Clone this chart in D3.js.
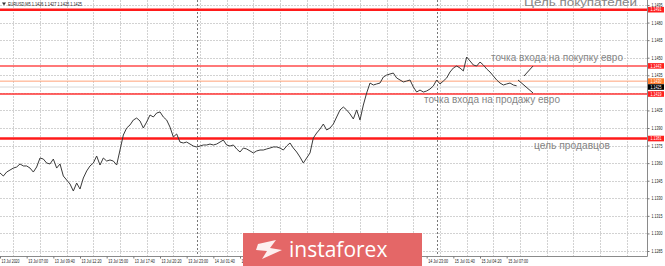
<!DOCTYPE html>
<html>
<head>
<meta charset="utf-8">
<script src="https://cdn.jsdelivr.net/npm/d3@7"></script>
<style>
  html, body { margin: 0; padding: 0; background: #fff; }
  svg { display: block; font-family: "Liberation Sans", Arial, sans-serif; }
</style>
</head>
<body>
<svg id="chart" width="665" height="266"></svg>
<script>
// EURUSD M5, closes every 20 minutes from 13 Jul 04:20
var startTime = "2020-07-13 04:20";
var stepMinutes = 20;
var closes = [
  1.13516, 1.13490, 1.13524, 1.13541, 1.13558, 1.13567, 1.13593, 1.13576, 1.13576, 1.13558,
  1.13524, 1.13567, 1.13644, 1.13635, 1.13601, 1.13593, 1.13635, 1.13558, 1.13593, 1.13490,
  1.13456, 1.13422, 1.13362, 1.13430, 1.13379, 1.13473, 1.13533, 1.13576, 1.13601, 1.13661,
  1.13584, 1.13644, 1.13618, 1.13627, 1.13618, 1.13584, 1.13712, 1.13840, 1.13900, 1.13926,
  1.13968, 1.13985, 1.13960, 1.13900, 1.13951, 1.14011, 1.13994, 1.14028, 1.14037, 1.13994,
  1.13968, 1.13908, 1.13823, 1.13849, 1.13780, 1.13772, 1.13780, 1.13763, 1.13746, 1.13738,
  1.13746, 1.13755, 1.13755, 1.13763, 1.13755, 1.13763, 1.13780, 1.13797, 1.13755, 1.13746,
  1.13755, 1.13721, 1.13695, 1.13729, 1.13721, 1.13704, 1.13687, 1.13704, 1.13712, 1.13712,
  1.13721, 1.13729, 1.13738, 1.13738, 1.13729, 1.13712, 1.13746, 1.13772, 1.13729, 1.13695,
  1.13652, 1.13601, 1.13644, 1.13687, 1.13815, 1.13857, 1.13891, 1.13934, 1.13883, 1.13900,
  1.13934, 1.13994, 1.14054, 1.14079, 1.14054, 1.14020, 1.13977, 1.14054, 1.13968, 1.14096,
  1.14199, 1.14284, 1.14267, 1.14276, 1.14284, 1.14335, 1.14352, 1.14361, 1.14369, 1.14327,
  1.14310, 1.14293, 1.14301, 1.14310, 1.14250, 1.14207, 1.14224, 1.14207, 1.14216, 1.14233,
  1.14259, 1.14310, 1.14276, 1.14301, 1.14327, 1.14378, 1.14412, 1.14429, 1.14412, 1.14387,
  1.14506, 1.14472, 1.14438, 1.14429, 1.14463, 1.14438, 1.14404, 1.14378, 1.14344, 1.14310,
  1.14284, 1.14267, 1.14276, 1.14284, 1.14267, 1.14260
];

// price axis ticks
var priceTicks = [1.1285, 1.1300, 1.1315, 1.1330, 1.1345, 1.1360, 1.1375, 1.1390,
  1.1405, 1.1420, 1.1435, 1.1450, 1.1465, 1.1480, 1.1495];

// time axis ticks that show (the rest sit under the logo); first is printed as a date
var timeTicks = [
  "2020-07-13 04:20", "2020-07-13 07:00", "2020-07-13 09:40", "2020-07-13 12:20",
  "2020-07-13 15:00", "2020-07-13 17:40", "2020-07-13 20:20", "2020-07-13 23:00",
  "2020-07-14 01:40", "2020-07-14 04:20",
  "2020-07-14 23:00", "2020-07-15 01:40", "2020-07-15 04:20", "2020-07-15 07:00"
];
var daySeparators = ["2020-07-14 00:00", "2020-07-15 00:00"];

// horizontal levels drawn on the chart
var levelNames = ["buyersTarget", "buyEntry", "orangeLine", "sellEntry", "sellersTarget"];
var levelPrices = [1.1491, 1.1443, 1.1430, 1.1419, 1.1381];
var currentBid = 1.1425;
var headerText = "EURUSD,M5  1.1426 1.1427 1.1425 1.1425";

// annotation texts
var noteTexts = ["Цель покупателей", "точка входа на покупку евро",
  "точка входа на продажу евро", "цель продавцов"];
var notePrices = [1.1494, 1.1447, 1.1411, 1.1372];

// pointer strokes next to the entry labels (price at start / end)
var pointerPrices = [[1.14344, 1.14429], [1.14310, 1.14199]];

var parseTime = d3.timeParse("%Y-%m-%d %H:%M");
var fmtFirst = d3.timeFormat("%d %b %Y");
var fmtTime = d3.timeFormat("%d %b %H:%M");

var svg = d3.select("#chart");
var plotRight = 647, plotBottom = 256;

var t0 = parseTime(startTime);
var x = d3.scaleTime()
  .domain([t0, d3.timeMinute.offset(t0, 64.7 * 60)])
  .range([0, plotRight]);
var y = d3.scaleLinear()
  .domain([1.1285, 1.1495])
  .range([251, 5]);

var series = closes.map(function(c, i) {
  return { t: d3.timeMinute.offset(t0, i * stepMinutes), v: c };
});

svg.append("rect").attr("width", 665).attr("height", 266).attr("fill", "#fff");

// Grid: horizontal at price ticks, vertical halfway between time labels
var grid = svg.append("g").attr("stroke", "#d2d2d2").attr("stroke-dasharray", "1.5,1.5")
  .attr("shape-rendering", "crispEdges");
grid.selectAll(".hg").data(priceTicks).enter().append("line")
  .attr("x1", 0).attr("x2", plotRight)
  .attr("y1", function(d) { return Math.round(y(d)) + 0.5; })
  .attr("y2", function(d) { return Math.round(y(d)) + 0.5; });
var gridTimes = d3.range(0, 25).map(function(k) {
  return d3.timeMinute.offset(t0, 80 + k * 160);
}).filter(function(t) { return x(t) < plotRight; });
grid.selectAll(".vg").data(gridTimes).enter().append("line")
  .attr("y1", 0).attr("y2", plotBottom)
  .attr("x1", function(d) { return Math.round(x(d)) + 0.5; })
  .attr("x2", function(d) { return Math.round(x(d)) + 0.5; });

// Day separators
svg.append("g").selectAll("line").data(daySeparators.map(parseTime)).enter().append("line")
  .attr("y1", 0).attr("y2", plotBottom)
  .attr("x1", function(d) { return Math.round(x(d)) + 0.5; })
  .attr("x2", function(d) { return Math.round(x(d)) + 0.5; })
  .attr("stroke", "#777").attr("stroke-dasharray", "2,2");

// Levels
var levelStyle = {
  buyersTarget: { color: "#ff1a1a", width: 2.5 },
  buyEntry: { color: "#ff4d4d", width: 1.5 },
  orangeLine: { color: "#ffa27a", width: 1 },
  sellEntry: { color: "#ff3333", width: 1.5 },
  sellersTarget: { color: "#ff1a1a", width: 2.5 }
};
var levels = levelNames.map(function(n, i) { return { name: n, price: levelPrices[i] }; });

// current bid line
svg.append("line")
  .attr("x1", 0).attr("x2", plotRight)
  .attr("y1", y(currentBid)).attr("y2", y(currentBid))
  .attr("stroke", "#d8d8d8").attr("stroke-width", 1);

svg.append("g").selectAll("line").data(levels).enter().append("line")
  .attr("x1", 0).attr("x2", plotRight)
  .attr("y1", function(d) { return y(d.price); })
  .attr("y2", function(d) { return y(d.price); })
  .attr("stroke", function(d) { return levelStyle[d.name].color; })
  .attr("stroke-width", function(d) { return levelStyle[d.name].width; });

// Price line
var line = d3.line()
  .x(function(d) { return x(d.t); })
  .y(function(d) { return y(d.v); });
svg.append("path")
  .datum(series)
  .attr("d", line)
  .attr("fill", "none")
  .attr("stroke", "#3a3a3a")
  .attr("stroke-width", 1);

// Axis frame
svg.append("line").attr("x1", plotRight + 0.5).attr("x2", plotRight + 0.5)
  .attr("y1", 0).attr("y2", plotBottom + 0.5).attr("stroke", "#8a8a8a");
svg.append("line").attr("x1", 0).attr("x2", plotRight + 0.5)
  .attr("y1", plotBottom + 0.5).attr("y2", plotBottom + 0.5).attr("stroke", "#8a8a8a");

// Price axis
var yAxis = d3.axisRight(y).tickValues(priceTicks).tickSize(2).tickPadding(2)
  .tickFormat(d3.format(".4f"));
var yg = svg.append("g").attr("transform", "translate(" + (plotRight + 0.5) + ",0)").call(yAxis);
yg.select(".domain").remove();
yg.selectAll("line").attr("stroke", "#777");
yg.selectAll("text").attr("font-size", "4.5px").attr("fill", "#222")
  .attr("textLength", 11).attr("lengthAdjust", "spacingAndGlyphs")
  .attr("font-family", "Liberation Sans, Arial, sans-serif");

// Time axis
var tickDates = timeTicks.map(parseTime);
var xAxis = d3.axisBottom(x).tickValues(tickDates).tickSize(2).tickPadding(1)
  .tickFormat(function(d, i) { return i === 0 ? fmtFirst(d) : fmtTime(d); });
var xg = svg.append("g").attr("transform", "translate(0," + (plotBottom + 0.5) + ")").call(xAxis);
xg.select(".domain").remove();
xg.selectAll("line").attr("stroke", "#777");
xg.selectAll("text").attr("font-size", "4.5px").attr("fill", "#222")
  .attr("text-anchor", "start").attr("dx", "1")
  .attr("textLength", function(d, i) { return i === 0 ? 18 : 20; })
  .attr("lengthAdjust", "spacingAndGlyphs")
  .attr("font-family", "Liberation Sans, Arial, sans-serif");

// Price tags on the axis
var tagColor = {
  buyersTarget: "#ff2020", buyEntry: "#ff2020", orangeLine: "#ff7a2a",
  sellEntry: "#ff2020", sellersTarget: "#ff2020"
};
var tags = levels.map(function(d) { return { price: d.price, fill: tagColor[d.name] }; });
tags.push({ price: currentBid, fill: "#000" });
var tag = svg.append("g").selectAll("g").data(tags).enter().append("g")
  .attr("transform", function(d) { return "translate(" + (plotRight + 1) + "," + y(d.price) + ")"; });
tag.append("rect").attr("x", 0).attr("y", -2.8).attr("width", 16).attr("height", 5.6)
  .attr("fill", function(d) { return d.fill; });
tag.append("text").attr("x", 2.5).attr("y", 1.6)
  .attr("font-size", "4.5px").attr("fill", "#fff")
  .attr("textLength", 11).attr("lengthAdjust", "spacingAndGlyphs")
  .text(function(d) { return d3.format(".4f")(d.price); });

// Header
svg.append("path").attr("d", "M2,2.5 L6,2.5 L4,5.5 Z").attr("fill", "#333");
svg.append("text").attr("x", 8).attr("y", 6).attr("font-size", "4.5px").attr("fill", "#222")
  .attr("textLength", 74).attr("lengthAdjust", "spacingAndGlyphs")
  .text(headerText);

// Annotations
var noteX = [524, 491, 424, 534];
var noteW = [113, 132, 136, 76];
svg.append("g").selectAll("text").data(noteTexts).enter().append("text")
  .attr("x", function(d, i) { return noteX[i]; })
  .attr("y", function(d, i) { return y(notePrices[i]); })
  .attr("font-size", "11.5px")
  .attr("textLength", function(d, i) { return noteW[i]; })
  .attr("lengthAdjust", "spacingAndGlyphs")
  .attr("fill", "#858585")
  .text(function(d) { return d; });

var pointerX = [[524, 533], [518, 533]];
svg.append("g").selectAll("line").data(pointerPrices).enter().append("line")
  .attr("x1", function(d, i) { return pointerX[i][0]; })
  .attr("x2", function(d, i) { return pointerX[i][1]; })
  .attr("y1", function(d) { return y(d[0]); })
  .attr("y2", function(d) { return y(d[1]); })
  .attr("stroke", "#333").attr("stroke-width", 1);

// Watermark logo
var logo = svg.append("g");
logo.append("rect").attr("x", 243).attr("y", 233).attr("width", 179).attr("height", 33)
  .attr("fill", "#e46767");
logo.append("path").attr("d", "M258,244 L276,240 L270,248 L282,250 L262,259 L267,251 L256,250 Z")
  .attr("fill", "#fff").attr("opacity", 0.9);
logo.append("text").attr("x", 289).attr("y", 257)
  .attr("font-size", "21px").attr("font-family", "Open Sans, Roboto, sans-serif")
  .attr("fill", "#fff")
  .text("instaforex");
</script>
</body>
</html>
